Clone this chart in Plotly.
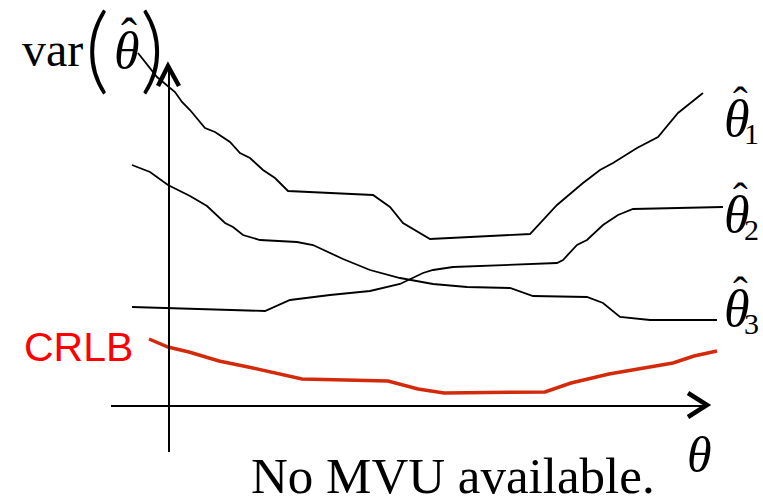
import plotly.graph_objects as go

# ---- data (picture coordinates: x right, y down) ----
theta1_x = [138, 157, 175, 182, 190, 205, 215, 230, 240, 250, 263, 275, 288, 373, 390, 403, 430, 530, 557, 583, 600, 613, 637, 658, 678, 703]
theta1_y = [53, 77, 92, 102, 110, 128, 132, 142, 153, 158, 170, 178, 191, 195, 207, 223, 239, 234, 205, 183, 170, 163, 148, 137, 113, 93]

theta2_x = [132, 265, 290, 330, 370, 400, 423, 433, 453, 557, 563, 577, 587, 603, 618, 633, 723]
theta2_y = [307, 311, 300, 295, 291, 284, 273, 270, 267, 263, 260, 245, 240, 225, 215, 209, 207]

theta3_x = [132, 150, 168, 182, 190, 207, 225, 233, 243, 260, 297, 313, 330, 343, 370, 400, 433, 467, 510, 533, 587, 603, 620, 650, 717]
theta3_y = [165, 172, 185, 192, 196, 206, 223, 227, 235, 240, 242, 245, 253, 259, 270, 278, 284, 287, 288, 296, 297, 303, 317, 320, 320]

crlb_x = [149, 168, 189, 219, 253, 278, 302, 388, 418, 444, 545, 571, 609, 673, 694, 717]
crlb_y = [339, 347, 352, 361, 368, 374, 379, 381, 389, 393, 392, 383, 374, 363, 356, 351]

label_subs = ["1", "2", "3"]
label_y = [118, 214, 308]

W, H = 763, 502
serif = "Liberation Serif"

fig = go.Figure()
for xs, ys in [(theta1_x, theta1_y), (theta2_x, theta2_y), (theta3_x, theta3_y)]:
    fig.add_trace(go.Scatter(x=xs, y=ys, mode="lines", line=dict(color="black", width=1.8),
                             hoverinfo="skip", showlegend=False))
fig.add_trace(go.Scatter(x=crlb_x, y=crlb_y, mode="lines", line=dict(color="#d42a0c", width=3.5),
                         hoverinfo="skip", showlegend=False))

shapes = [
    dict(type="line", x0=169, y0=68, x1=169, y1=452, line=dict(color="black", width=2)),
    dict(type="path", path="M 158 86 L 168 66 L 179 86", line=dict(color="black", width=4.5)),
    dict(type="line", x0=111, y0=406, x1=706, y1=406, line=dict(color="black", width=2)),
    dict(type="path", path="M 688 393 L 707 405 L 688 417", line=dict(color="black", width=4.5)),
]
for s in shapes:
    s.update(xref="x", yref="y", layer="above")

def ann(x, y, text, size, color="black", family=serif, xa="center", ya="middle", weight=None):
    f = dict(family=family, size=size, color=color)
    if weight is not None:
        f["weight"] = weight
    return dict(x=x, y=y, xref="x", yref="y", text=text, showarrow=False,
                font=f, xanchor=xa, yanchor=ya)

annotations = [
    ann(20, 49, "var", 48, xa="left"),
    ann(97, 45, "(", 94, family="Lato", weight=300),
    ann(152, 45, ")", 94, family="Lato", weight=300),
    ann(127, 50, "<i>θ</i>", 52),
    ann(129, 35, "ˆ", 48),
    ann(699, 455, "<i>θ</i>", 50),
    ann(453, 476, "No MVU available.", 51),
    ann(22, 347, "CRLB", 41, color="#ff0000", family="Liberation Sans", xa="left"),
]
for sub, yy in zip(label_subs, label_y):
    annotations += [
        ann(737, yy, "<i>θ</i>", 52),
        ann(740, yy - 16, "ˆ", 44),
        ann(761, yy + 15, sub, 30, xa="right"),
    ]

fig.update_layout(
    width=W, height=H, margin=dict(l=0, r=0, t=0, b=0),
    paper_bgcolor="white", plot_bgcolor="white",
    xaxis=dict(range=[0, W], visible=False, fixedrange=True),
    yaxis=dict(range=[H, 0], visible=False, fixedrange=True),
    shapes=shapes, annotations=annotations, showlegend=False,
)
fig.write_html("out.html")
